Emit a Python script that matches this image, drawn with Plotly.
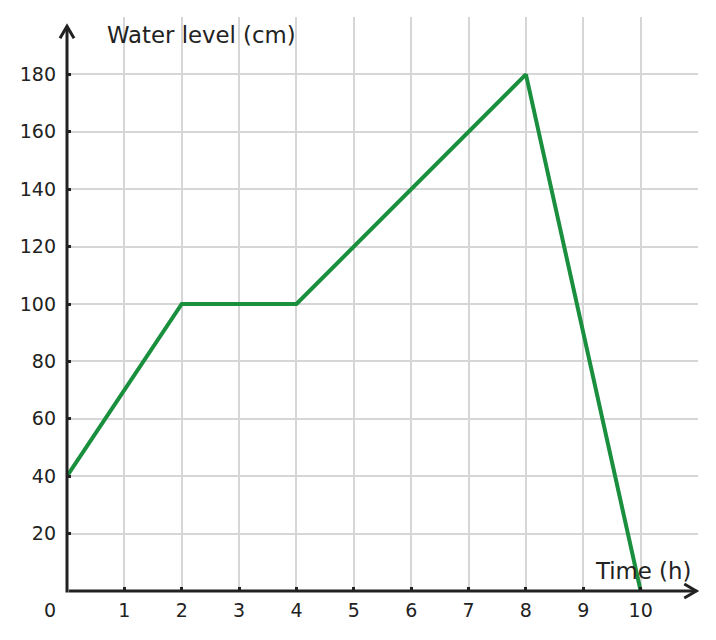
import plotly.graph_objects as go

time_h = [0, 2, 4, 8, 10]
water_cm = [40, 100, 100, 180, 0]
x_ticks = [1, 2, 3, 4, 5, 6, 7, 8, 9, 10]
y_ticks = [20, 40, 60, 80, 100, 120, 140, 160, 180]

X_MAX = 11
Y_MAX = 200

FONT = "DejaVu Sans"
AX = "#222222"
GRID = "#d6d6d6"


def px(v):
    return v / X_MAX


def py(v):
    return v / Y_MAX


fig = go.Figure()
fig.add_trace(go.Scatter(x=time_h, y=water_cm, mode="lines",
                         line=dict(color="#1a8f3e", width=4), hoverinfo="skip"))

# axis lines (paper refs so they are not clipped)
fig.add_shape(type="line", x0=0, x1=0, y0=py(-0.5), y1=py(196.8), xref="paper", yref="paper",
              line=dict(color=AX, width=3), layer="above")
fig.add_shape(type="line", x0=px(0.03), x1=px(10.97), y0=0, y1=0, xref="paper", yref="paper",
              line=dict(color=AX, width=3), layer="above")
# arrow heads
fig.add_shape(type="path", xref="paper", yref="paper", xsizemode="pixel", ysizemode="pixel",
              xanchor=px(10.97), yanchor=0, path="M -12,7 L 0,0 L -12,-7",
              line=dict(color=AX, width=3), layer="above")
fig.add_shape(type="path", xref="paper", yref="paper", xsizemode="pixel", ysizemode="pixel",
              xanchor=0, yanchor=py(196.8), path="M -7,-12 L 0,0 L 7,-12",
              line=dict(color=AX, width=3), layer="above")

fig.add_annotation(x=px(0.67), y=py(193.8), xref="paper", yref="paper", text="Water level (cm)",
                   showarrow=False, xanchor="left", yanchor="middle",
                   font=dict(family=FONT, size=22.8, color=AX))
fig.add_annotation(x=px(10.915), y=py(7.0), xref="paper", yref="paper", text="Time (h)",
                   showarrow=False, xanchor="right", yanchor="middle",
                   font=dict(family=FONT, size=22.8, color=AX))
fig.add_annotation(x=px(-0.30), y=py(-6.6), xref="paper", yref="paper", text="0",
                   showarrow=False, xanchor="center", yanchor="middle",
                   font=dict(family=FONT, size=19, color=AX))

fig.update_xaxes(range=[0, X_MAX], tickvals=x_ticks, showgrid=True, gridcolor=GRID,
                 gridwidth=2, zeroline=False, showline=False, ticks="inside",
                 ticklen=4, tickwidth=3, tickcolor=AX, ticklabelstandoff=6,
                 tickfont=dict(family=FONT, size=19, color=AX))
fig.update_yaxes(range=[0, Y_MAX], tickvals=y_ticks, showgrid=True, gridcolor=GRID,
                 gridwidth=2, zeroline=False, showline=False, ticks="inside",
                 ticklen=4, tickwidth=3, tickcolor=AX, ticklabelstandoff=10,
                 tickfont=dict(family=FONT, size=19, color=AX))

fig.update_layout(width=716, height=640, margin=dict(l=67, r=18, t=17, b=49),
                  plot_bgcolor="white", paper_bgcolor="white", showlegend=False,
                  font=dict(family=FONT))
fig.write_html("out.html")
